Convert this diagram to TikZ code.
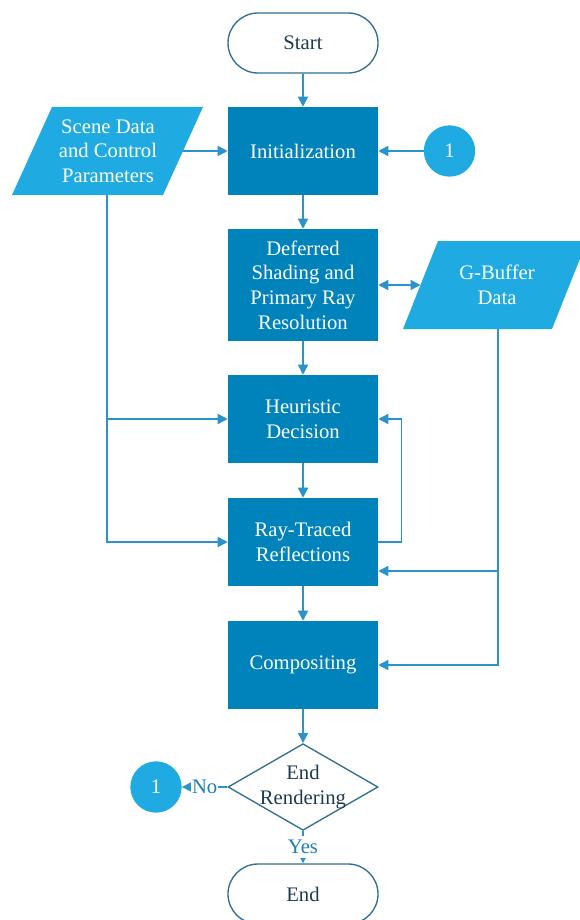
\documentclass[tikz,border=0pt]{standalone}
\usepackage{fontspec}
\setmainfont{Liberation Serif}
\usetikzlibrary{arrows.meta,shapes.geometric}

\definecolor{procblue}{HTML}{0083BB}
\definecolor{datablue}{HTML}{1FABE2}
\definecolor{linkblue}{HTML}{2A93CB}
\definecolor{termline}{HTML}{2F6E95}
\definecolor{termtext}{HTML}{1E3A50}
\definecolor{labelblue}{HTML}{1C7EB8}

\begin{document}
\begin{tikzpicture}[x=0.75pt,y=0.75pt,yscale=-1,xscale=1,
  font=\fontsize{15.5}{18.5}\selectfont,
  proc/.style={rectangle,fill=procblue,text=white,align=center,minimum width=112.5pt,minimum height=66pt,inner sep=2pt},
  term/.style={rectangle,rounded corners=22.5pt,draw=termline,line width=1pt,fill=white,text=termtext,minimum width=112.5pt,minimum height=45pt},
  datatext/.style={text=white,align=center,inner sep=0pt},
  conn/.style={circle,fill=datablue,text=white,minimum size=38.5pt,inner sep=0pt},
  decide/.style={diamond,draw=termline,line width=1pt,fill=white,text=termtext,align=center,aspect=1.7,inner sep=-3.5pt,minimum width=112.5pt,minimum height=65pt},
  link/.style={draw=linkblue,line width=1.1pt,-{Triangle[length=7.5pt,width=7.5pt]}},
  tag/.style={fill=white,text=labelblue,inner sep=0.5pt}]
\useasboundingbox (0,0) rectangle (580,920);

%Parallelograms
\fill[datablue] (12,195) -- (52,107) -- (203,107) -- (163,195) -- cycle;
\fill[datablue] (403,329) -- (438,241) -- (587,241) -- (552,329) -- cycle;
\coordinate (scene-e) at (183,151);
\coordinate (scene-s) at (107,195);
\coordinate (gbuf-w) at (420.5,285);
\coordinate (gbuf-s) at (498,329);

% Text Node
\node[term] (start) at (303,43) {Start};
\node[proc] (init) at (303,151) {Initialization};
\node[datatext] (scene) at (108,151) {Scene Data\\and Control\\Parameters};
\node[conn] (one-a) at (449.5,151) {1};
\node[proc,minimum height=84pt] (defer) at (303,285) {Deferred\\Shading and\\Primary Ray\\Resolution};
\node[datatext] (gbuf) at (497,285) {G-Buffer\\Data};
\node[proc] (heur) at (303,419) {Heuristic\\Decision};
\node[proc] (ray) at (303,542) {Ray-Traced\\Reflections};
\node[proc] (comp) at (303,665) {Compositing};
\node[decide] (stop) at (303,787) {End\\Rendering};
\node[conn] (one-b) at (156,787) {1};
\node[term] (end) at (303,894) {End};

%Straight Lines
\draw[link] (start) -- (init);
\draw[link] (scene-e) -- (init);
\draw[link] (one-a) -- (init);
\draw[link] (init) -- (defer);
\draw[link,{Triangle[length=7.5pt,width=7.5pt]}-{Triangle[length=7.5pt,width=7.5pt]}] (defer) -- (gbuf-w);
\draw[link] (defer) -- (heur);
\draw[link] (heur) -- (ray);
\draw[link] (ray) -- (comp);
\draw[link] (scene-s) |- (heur);
\draw[link] (scene-s) |- (ray);
\draw[link] (ray.east) -- ++(23,0) |- (heur.east);
\draw[link] (gbuf-s) |- ([yshift=21.75pt]ray.east);
\draw[link] (gbuf-s) |- (comp);
\draw[link] (comp) -- (stop);
\draw[link] (stop) -- (one-b) node[tag,midway] {No};
\draw[link] (stop) -- (end) node[tag,midway,inner ysep=3pt] {Yes};

\end{tikzpicture}
\end{document}
